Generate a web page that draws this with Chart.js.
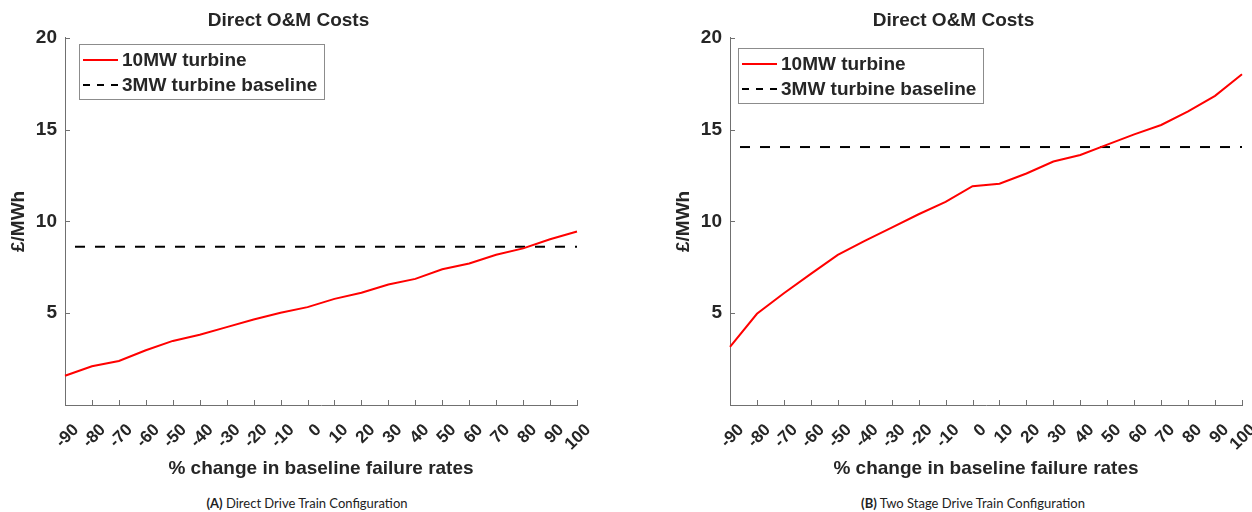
<!DOCTYPE html>
<html>
<head>
<meta charset="utf-8">
<script src="https://cdn.jsdelivr.net/npm/chart.js@4.4.0/dist/chart.umd.min.js"></script>
<style>
  body { margin: 0; background: #fff; width: 1252px; height: 512px; position: relative; overflow: hidden; }
  .box { position: absolute; top: 0; width: 600px; height: 480px; }
  .cap { position: absolute; top: 495px; width: 400px; text-align: center; font-family: Lato, sans-serif; font-size: 13px; color: #222; }
</style>
</head>
<body>
<div class="box" style="left:0"><canvas id="c1" width="600" height="480"></canvas></div>
<div class="box" style="left:665px"><canvas id="c2" width="600" height="480"></canvas></div>
<div class="cap" style="left:107px"><b>(A)</b> Direct Drive Train Configuration</div>
<div class="cap" style="left:773px"><b>(B)</b> Two Stage Drive Train Configuration</div>

<script>
// data
const categories = [-90, -80, -70, -60, -50, -40, -30, -20, -10, 0, 10, 20, 30, 40, 50, 60, 70, 80, 90, 100];
const directDrive10MW = [1.59, 2.11, 2.40, 2.98, 3.49, 3.83, 4.24, 4.66, 5.02, 5.33, 5.78, 6.11, 6.56, 6.87, 7.39, 7.71, 8.18, 8.53, 9.03, 9.45];
const directDrive3MW = 8.62;
const twoStage10MW = [3.16, 4.97, 6.09, 7.14, 8.18, 8.94, 9.66, 10.39, 11.06, 11.92, 12.05, 12.61, 13.26, 13.62, 14.18, 14.74, 15.25, 15.99, 16.84, 18.01];
const twoStage3MW = 14.05;
const yTicks = [5, 10, 15, 20];

const textColor = '#262626';
const axisColor = '#707070';
const font = '"Liberation Sans", Arial, sans-serif';

// MATLAB style ticks pointing into the plot
const inwardTicks = {
  id: 'inwardTicks',
  afterDatasetsDraw(chart) {
    const { ctx, chartArea: a, scales: { x, y } } = chart;
    ctx.save();
    ctx.strokeStyle = axisColor;
    ctx.lineWidth = 1;
    ctx.beginPath();
    x.ticks.forEach((t, i) => {
      const px = Math.round(x.getPixelForTick(i)) + 0.5;
      ctx.moveTo(px, a.bottom);
      ctx.lineTo(px, a.bottom - 5);
    });
    y.ticks.forEach((t, i) => {
      if (!yTicks.includes(t.value)) return;
      const py = Math.round(y.getPixelForTick(i)) + 0.5;
      ctx.moveTo(a.left, py);
      ctx.lineTo(a.left + 5, py);
    });
    ctx.stroke();
    ctx.restore();
  }
};

// legend box inside the axes, top left
const boxLegend = {
  id: 'boxLegend',
  afterDraw(chart, args, opts) {
    const { ctx, chartArea: a } = chart;
    const items = chart.data.datasets;
    ctx.save();
    ctx.font = 'bold 19px ' + font;
    const tw = Math.max(...items.map(d => ctx.measureText(d.label).width));
    const x0 = Math.round(a.left + opts.dx), y0 = Math.round(a.top + opts.dy);
    const w = Math.round(43 + tw + 7), h = 55;
    ctx.fillStyle = '#fff';
    ctx.fillRect(x0, y0, w, h);
    ctx.strokeStyle = '#8c8c8c';
    ctx.lineWidth = 1;
    ctx.strokeRect(x0 + 0.5, y0 + 0.5, w, h);
    items.forEach((d, i) => {
      const cy = y0 + 16 + i * 25;
      ctx.beginPath();
      ctx.strokeStyle = d.borderColor;
      ctx.lineWidth = 2;
      ctx.setLineDash(d.borderDash ? [7, 7] : []);
      ctx.moveTo(x0 + 4, cy);
      ctx.lineTo(x0 + 39, cy);
      ctx.stroke();
      ctx.setLineDash([]);
      ctx.fillStyle = textColor;
      ctx.textBaseline = 'middle';
      ctx.fillText(d.label, x0 + 43, cy + 1);
    });
    ctx.restore();
  }
};

function makeChart(id, series, baseline, legendPos) {
  const labels = categories.map(String);
  return new Chart(document.getElementById(id), {
    type: 'line',
    data: {
      labels: labels,
      datasets: [
        { label: '10MW turbine', data: series, borderColor: '#ff0000', borderWidth: 2, pointRadius: 0, tension: 0 },
        { label: '3MW turbine baseline', data: [{ x: labels[0], y: baseline }, { x: labels[labels.length - 1], y: baseline }],
          borderColor: '#000', borderWidth: 2, borderDash: [10, 10], borderDashOffset: 10, pointRadius: 0 }
      ]
    },
    options: {
      responsive: false,
      animation: false,
      layout: { padding: { left: 0, right: 23, top: 0, bottom: 0 } },
      plugins: {
        legend: { display: false },
        tooltip: { enabled: false },
        title: { display: true, text: 'Direct O&M Costs', color: textColor,
          font: { family: font, size: 19, weight: 'bold' }, padding: { top: 9, bottom: 6 } },
        boxLegend: legendPos
      },
      scales: {
        x: {
          offset: false,
          grid: { display: false, drawTicks: false },
          border: { display: true, color: axisColor },
          ticks: { autoSkip: false, minRotation: 45, maxRotation: 45, padding: 15, labelOffset: 11, color: textColor,
            font: { family: font, size: 17, weight: 'bold' } },
          title: { display: true, text: '% change in baseline failure rates', color: textColor,
            font: { family: font, size: 19, weight: 'bold' }, padding: { top: 4, bottom: 0 } },
          afterFit(scale) { scale.height = 75; scale.paddingLeft = 0; scale.paddingRight = 0; }
        },
        y: {
          min: 0, max: 20,
          grid: { display: false, drawTicks: false },
          border: { display: true, color: axisColor },
          ticks: { stepSize: 5, padding: 8, color: textColor,
            font: { family: font, size: 19, weight: 'bold' },
            callback: v => (yTicks.includes(v) ? v : '') },
          title: { display: true, text: '£/MWh', color: textColor,
            font: { family: font, size: 19, weight: 'bold' }, padding: { top: 7, bottom: 0 } },
          afterFit(scale) { scale.width = 65; }
        }
      }
    },
    plugins: [inwardTicks, boxLegend]
  });
}

makeChart('c1', directDrive10MW, directDrive3MW, { dx: 14, dy: 6 });
makeChart('c2', twoStage10MW, twoStage3MW, { dx: 8, dy: 10 });
</script>
</body>
</html>
